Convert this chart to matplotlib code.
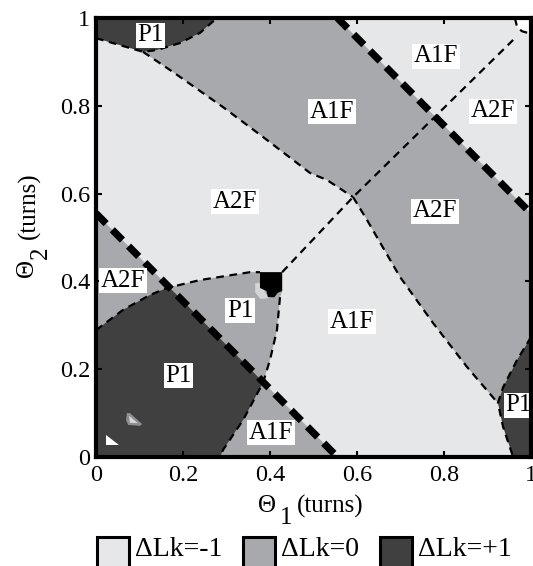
import matplotlib
matplotlib.use("Agg")
import matplotlib.pyplot as plt
from matplotlib.patches import Polygon, Rectangle

plt.rcParams["font.family"] = ["Liberation Serif", "DejaVu Serif"]
plt.rcParams["mathtext.fontset"] = "stix"

LIGHT, MID, DARK = "#e6e7e8", "#a7a9ac", "#404041"

# boundary curves as (theta1, theta2) in turns
P1_TOP = [(0.0, 0.954), (0.108, 0.923), (0.140, 0.927), (0.193, 0.943),
          (0.239, 0.966), (0.278, 1.0)]
CURVE_A = [(0.108, 0.923), (0.177, 0.877), (0.292, 0.797), (0.384, 0.729),
           (0.492, 0.647), (0.531, 0.631), (0.591, 0.592)]
CURVE_B = [(0.591, 0.592), (0.623, 0.540), (0.699, 0.410), (0.775, 0.305),
           (0.853, 0.205), (0.922, 0.125)]
P1_RIGHT = [(1.0, 0.273), (0.968, 0.221), (0.936, 0.159), (0.924, 0.123),
            (0.936, 0.068), (0.959, 0.0)]
LOBE_TOP = [(0.0, 0.289), (0.062, 0.335), (0.124, 0.369), (0.163, 0.385),
            (0.239, 0.403), (0.354, 0.421), (0.377, 0.421)]
LOBE_RIGHT = [(0.423, 0.364), (0.416, 0.289), (0.400, 0.221), (0.384, 0.169),
              (0.338, 0.084), (0.292, 0.016), (0.285, 0.0)]
DIAGONAL = [(0.428, 0.421), (0.591, 0.592), (0.959, 0.950)]
CORNER_ARC = [(0.963, 1.0), (0.968, 0.980), (0.979, 0.970), (1.0, 0.964)]
SQUARE = [(0.377, 0.421), (0.428, 0.421), (0.428, 0.378), (0.418, 0.374),
          (0.410, 0.364), (0.395, 0.364), (0.392, 0.378), (0.377, 0.385)]
NOTCH = [(0.366, 0.396), (0.380, 0.396), (0.390, 0.372), (0.400, 0.362),
         (0.378, 0.360), (0.366, 0.375)]
SPECK_WHITE = [(0.023, 0.050), (0.023, 0.027), (0.053, 0.027)]
SPECK_GRAY = [(0.071, 0.100), (0.078, 0.100), (0.106, 0.075), (0.101, 0.071),
              (0.074, 0.073), (0.069, 0.084)]
SPECK_INNER = [(0.076, 0.094), (0.096, 0.077), (0.078, 0.078)]
LK_SUMS = [0.555, 1.555]   # thick boundaries: theta1 + theta2 = const

LABELS = ["P1", "A1F", "A1F", "A2F", "A2F", "A2F", "A2F", "P1", "P1", "A1F", "A1F", "P1"]
LABEL_X = [0.126, 0.542, 0.782, 0.913, 0.779, 0.320, 0.062, 0.331, 0.189, 0.402, 0.589, 0.972]
LABEL_Y = [0.961, 0.786, 0.913, 0.788, 0.560, 0.581, 0.401, 0.333, 0.185, 0.055, 0.308, 0.118]

TICKS = [0, 0.2, 0.4, 0.6, 0.8, 1]
TICK_TEXT = ["0", "0.2", "0.4", "0.6", "0.8", "1"]

LEGEND_TEXT = ["ΔLk=-1", "ΔLk=0", "ΔLk=+1"]
LEGEND_COLORS = [LIGHT, MID, DARK]

fig = plt.figure(figsize=(5.33, 5.66), dpi=100)
ax = fig.add_axes([0.1801, 0.1926, 0.8161, 0.7756])
ax.set_facecolor(LIGHT)
ax.set_xlim(0, 1)
ax.set_ylim(0, 1)

# thick lines and the triangle below the lower one
thick = []
for c in LK_SUMS:
    a, b = max(0.0, c - 1), min(1.0, c)
    thick.append([(a, c - a), (b, c - b)])
low = thick[0]
tri = [(0.0, 0.0), low[1], low[0]]

band = [P1_TOP[-1], thick[1][0], thick[1][1]] + P1_RIGHT[:4] \
    + CURVE_B[::-1] + CURVE_A[::-1][1:] + P1_TOP[2:]
ax.add_patch(Polygon(band, closed=True, fc=MID, ec="none"))
ax.add_patch(Polygon(tri, closed=True, fc=MID, ec="none"))

lobe = [(0.0, 0.0)] + LOBE_TOP + [SQUARE[1], SQUARE[2]] + LOBE_RIGHT
ax.add_patch(Polygon(lobe, closed=True, fc=MID, ec="none"))
dark_lobe = Polygon(lobe, closed=True, fc=DARK, ec="none")
dark_lobe.set_clip_path(Polygon(tri, closed=True, transform=ax.transData))
ax.add_patch(dark_lobe)

ax.add_patch(Polygon([(0.0, 1.0)] + P1_TOP, closed=True, fc=DARK, ec="none"))
ax.add_patch(Polygon([(1.0, 0.0)] + P1_RIGHT, closed=True, fc=DARK, ec="none"))
ax.add_patch(Polygon([(1.0, 1.0)] + CORNER_ARC, closed=True, fc="white", ec="none"))
ax.add_patch(Polygon(NOTCH, closed=True, fc="#d4d5d7", ec="none"))
ax.add_patch(Polygon(SQUARE, closed=True, fc="black", ec="none"))
ax.add_patch(Polygon(SPECK_WHITE, closed=True, fc="white", ec="none"))
ax.add_patch(Polygon(SPECK_GRAY, closed=True, fc="#8e8f92", ec="none"))
ax.add_patch(Polygon(SPECK_INNER, closed=True, fc="#d8d8da", ec="none"))

thin = dict(color="black", lw=1.6, ls=(0, (3.5, 2.5)), solid_capstyle="butt")
for curve in (P1_TOP, CURVE_A, CURVE_B, P1_RIGHT, LOBE_TOP, LOBE_RIGHT,
              DIAGONAL, CORNER_ARC):
    xs, ys = zip(*curve)
    ax.plot(xs, ys, **thin)
for seg in thick:
    xs, ys = zip(*seg)
    ax.plot(xs, ys, color="black", lw=5.2, ls=(0, (2.0, 1.2)),
            dash_capstyle="butt")

for s, x, y in zip(LABELS, LABEL_X, LABEL_Y):
    ax.text(x, y, s, fontsize=18, ha="center", va="center",
            bbox=dict(fc="white", ec="none", pad=1.0))

for sp in ax.spines.values():
    sp.set_linewidth(3)
    sp.set_zorder(5)
ax.set_xticks(TICKS)
ax.set_yticks(TICKS)
ax.set_xticklabels(TICK_TEXT)
ax.set_yticklabels(TICK_TEXT)
ax.tick_params(direction="in", length=4, width=1.5, top=True, right=True,
               labelsize=17.5)
ax.tick_params(axis="x", pad=6)
ax.tick_params(axis="y", pad=4)

# axis titles with a full-size, lowered subscript
tr = ax.transAxes
lab = dict(fontsize=18, transform=tr, clip_on=False)
ax.text(0.414, -0.112, "Θ", ha="right", va="center", **lab)
ax.text(0.422, -0.139, "1", ha="left", va="center", **lab)
ax.text(0.461, -0.112, "(turns)", ha="left", va="center", **lab)
rot = dict(rotation=90, rotation_mode="anchor", va="center")
ax.text(-0.159, 0.430, "Θ", ha="center", **rot, **lab)
ax.text(-0.127, 0.451, "2", ha="left", **rot, **lab)
ax.text(-0.154, 0.497, "(turns)", ha="left", **rot, **lab)

# legend drawn by hand along the bottom edge
box_x = [97, 243, 380]
for x0, txt, col in zip(box_x, LEGEND_TEXT, LEGEND_COLORS):
    fig.add_artist(Rectangle((x0 / 533, -4 / 566), 32 / 533, 33 / 566,
                             transform=fig.transFigure, fc=col, ec="black",
                             lw=2.2, clip_on=False))
    fig.text((x0 + 38) / 533, 16 / 566, txt, fontsize=20, ha="left",
             va="center")

fig.savefig("out.png", dpi=100)
